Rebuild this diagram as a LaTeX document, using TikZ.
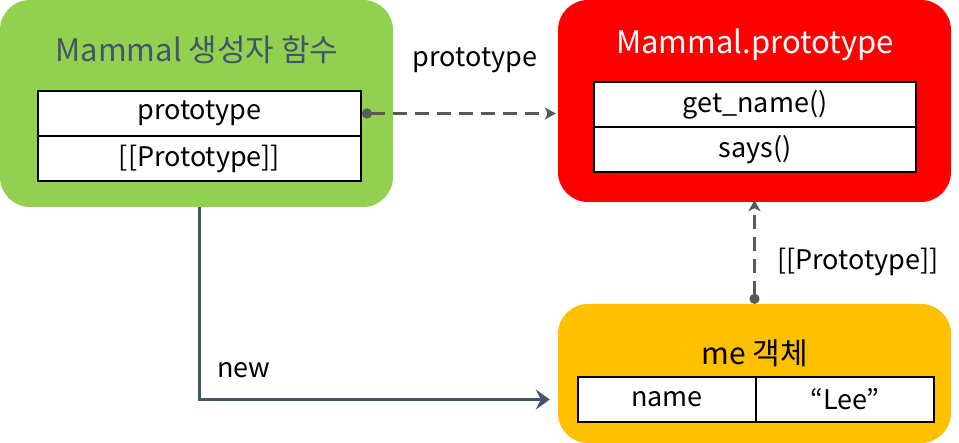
\documentclass[tikz,border=0pt]{standalone}
\usepackage{fontspec}
\setmainfont{Noto Sans CJK KR}
\usepackage{tikz}
\usetikzlibrary{arrows.meta,positioning}
\usepackage{xcolor}
\definecolor{ctorgreen}{RGB}{146,208,80}
\definecolor{protored}{RGB}{255,0,0}
\definecolor{objyellow}{RGB}{255,192,0}
\definecolor{slate}{RGB}{68,84,106}
\definecolor{linkgray}{RGB}{89,89,89}

\begin{document}
\begin{tikzpicture}[
    x=1pt, y=-1pt,
    panel/.style={
        rectangle, rounded corners=30pt, inner sep=0pt
    },
    title/.style={font=\fontsize{31}{36}\selectfont, inner sep=0pt},
    cell/.style={
        rectangle, draw=black, line width=2pt, fill=white,
        minimum width=323pt, minimum height=45pt, inner sep=0pt,
        font=\fontsize{27}{31}\selectfont
    },
    lbl/.style={font=\fontsize{27}{31}\selectfont, inner sep=0pt},
    dashlink/.style={
        linkgray, line width=3pt, dash pattern=on 14pt off 8pt,
        {Circle[length=10pt]}-{Stealth[length=11pt, width=12pt, inset=3pt]}
    },
    newlink/.style={slate, line width=3pt, -{Stealth[length=14pt, width=20pt, inset=5pt]}}
]
\useasboundingbox (0,0) rectangle (959,443);

% Constructor function
\node[panel, fill=ctorgreen, minimum width=393pt, minimum height=207pt] (ctor) at (196.5,103.5) {};
\node[title, text=slate] (ctortitle) at (197,50) {Mammal 생성자 함수};
\node[cell] (protoprop) at (199.5,113.5) {prototype};
\node[cell] (protoslot) at (199.5,158.5) {[[Prototype]]};

% Prototype object
\node[panel, fill=protored, minimum width=393pt, minimum height=202pt] (protoobj) at (754.5,101) {};
\node[title, text=white] (prototitle) at (755,45) {Mammal.prototype};
\node[cell, minimum width=322pt] (getname) at (755,104.5) {get\_name()};
\node[cell, minimum width=322pt] (says) at (755,149.5) {says()};

% Instance
\node[panel, fill=objyellow, minimum width=393pt, minimum height=139pt] (meobj) at (754.5,373.5) {};
\node[title, font=\fontsize{30}{35}\selectfont] (metitle) at (755,353) {me 객체};
\node[cell, minimum width=178pt] (mename) at (667,399.5) {name};
\node[cell, minimum width=178pt] (meval) at (845,399.5) {“Lee”};

% Links
\draw[dashlink] (protoprop.east) -- ([xshift=-2pt]protoobj.west |- protoprop.east);
\draw[dashlink] (meobj.north) -- ([yshift=2pt]protoobj.south);
\draw[newlink] ([xshift=3pt]ctor.south) |- ([xshift=-8pt]meobj.west |- mename.center);

% Link labels
\node[lbl] (protolbl) at (475,60) {prototype};
\node[lbl] (slotlbl) at (858,262) {[[Prototype]]};
\node[lbl] (newlbl) at (244,370) {new};

\end{tikzpicture}
\end{document}
